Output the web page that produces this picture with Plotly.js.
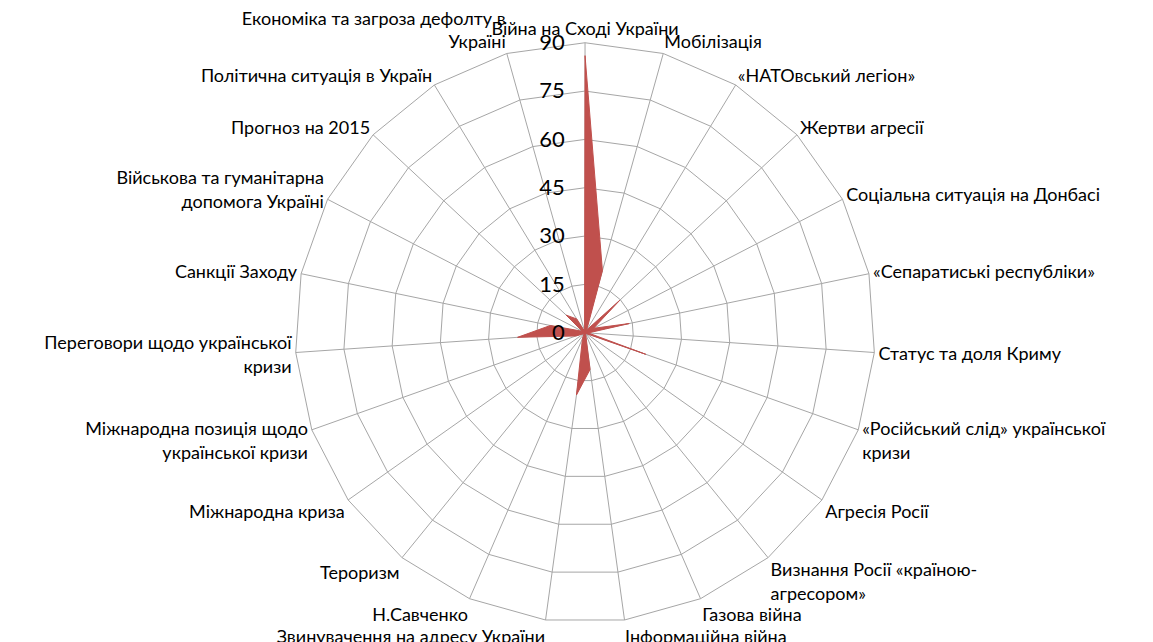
<!DOCTYPE html>
<html><head><meta charset="utf-8">
<script src="https://cdn.plot.ly/plotly-3.0.1.min.js"></script>
<style>html,body{margin:0;padding:0;background:#fff;overflow:hidden}</style>
</head><body><div id="chart" style="width:1153px;height:642px"></div>
<script>
const categories = [
  "Війна на Сході України",
  "Мобілізація",
  "«НАТОвський легіон»",
  "Жертви агресії",
  "Соціальна ситуація на Донбасі",
  "«Сепаратиські республіки»",
  "Статус та доля Криму",
  "«Російський слід» української кризи",
  "Агресія Росії",
  "Визнання Росії «країною-агресором»",
  "Газова війна",
  "Інформаційна війна",
  "Звинувачення на адресу України",
  "Н.Савченко",
  "Тероризм",
  "Міжнародна криза",
  "Міжнародна позиція щодо української кризи",
  "Переговори щодо української кризи",
  "Санкції Заходу",
  "Військова та гуманітарна допомога Україні",
  "Прогноз на 2015",
  "Політична ситуація в Україн",
  "Економіка та загроза дефолту в Україні"
];
const tickLabels = [
  "Війна на Сході України",
  "Мобілізація",
  "«НАТОвський легіон»",
  "Жертви агресії",
  "Соціальна ситуація на Донбасі",
  "«Сепаратиські республіки»",
  "Статус та доля Криму",
  "«Російський слід» української<br>кризи",
  "Агресія Росії",
  "Визнання Росії «країною-<br>агресором»",
  "Газова війна",
  "Інформаційна війна",
  "Звинувачення на адресу України",
  "Н.Савченко",
  "Тероризм",
  "Міжнародна криза",
  "Міжнародна позиція щодо<br>української кризи",
  "Переговори щодо української<br>кризи",
  "Санкції Заходу",
  "Військова та гуманітарна<br>допомога Україні",
  "Прогноз на 2015",
  "Політична ситуація в Україн",
  "Економіка та загроза дефолту в<br>Україні"
];
const values = [86, 20, 1, 14.7, 3, 14, 1, 20, 0.5, 0.5, 0.5, 11.5, 19.5, 2, 0.5, 0.5, 3, 21, 11, 1, 8, 5, 0.5];
const radialTicks = [0, 15, 30, 45, 60, 75, 90];

const trace = {
  type: 'scatterpolar',
  r: values.concat([values[0]]),
  theta: categories.concat([categories[0]]),
  fill: 'toself',
  fillcolor: '#C0504D',
  line: {color: '#C0504D', width: 1},
  mode: 'lines',
  hoverinfo: 'skip'
};

const layout = {
  width: 1153, height: 642,
  margin: {l: 0, r: 0, t: 0, b: 0},
  paper_bgcolor: '#ffffff',
  showlegend: false,
  font: {family: 'Lato, "Open Sans", sans-serif', color: '#000000'},
  polar: {
    domain: {x: [0.2559, 0.7589], y: [0.03, 0.9335]},
    bgcolor: '#ffffff',
    gridshape: 'linear',
    angularaxis: {
      type: 'category',
      categoryorder: 'array',
      categoryarray: categories,
      tickvals: categories,
      ticktext: tickLabels,
      rotation: 90,
      direction: 'clockwise',
      showline: true,
      linecolor: '#a6a6a6',
      linewidth: 1,
      gridcolor: '#a6a6a6',
      gridwidth: 1,
      ticks: '',
      tickfont: {size: 18, color: '#000000', family: 'Lato, "Open Sans", sans-serif'}
    },
    radialaxis: {
      range: [0, 90],
      tickvals: radialTicks,
      ticktext: radialTicks.map(String),
      angle: 90,
      side: 'counterclockwise',
      showline: false,
      gridcolor: '#a6a6a6',
      gridwidth: 1,
      ticks: 'outside',
      ticklen: 12,
      tickcolor: 'rgba(0,0,0,0)',
      tickangle: 90,
      tickfont: {size: 22, color: '#000000', family: 'Lato, "Open Sans", sans-serif'}
    }
  }
};

Plotly.newPlot('chart', [trace], layout, {staticPlot: true, displayModeBar: false});
</script>
</body></html>
